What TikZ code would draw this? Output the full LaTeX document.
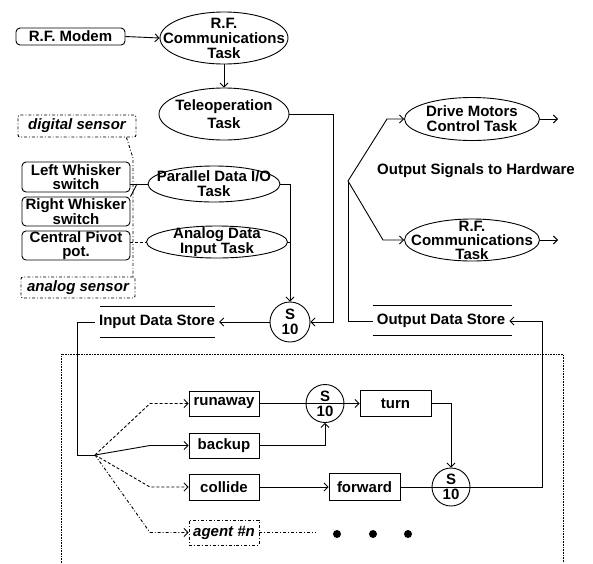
\documentclass[tikz,border=0pt]{standalone}
\usepackage{fontspec}
\setmainfont{Liberation Sans}
\usetikzlibrary{arrows.meta,shapes.geometric}
\begin{document}
\begin{tikzpicture}[x=1pt,y=-1pt,
  every node/.style={font=\fontsize{15}{14}\selectfont\bfseries, inner sep=0pt},
  ln/.style={line width=0.9pt},
  arr/.style={ln,-{Straight Barb[length=4pt,width=8pt]}},
  task/.style={draw,ln,ellipse,inner sep=0pt},
  hw/.style={draw,ln,rounded corners=4pt,align=center},
  sens/.style={draw,ln,dash dot,rounded corners=2pt},
  beh/.style={draw,ln,rectangle},
  sup/.style={draw,ln,circle,align=center,font=\fontsize{15}{15}\selectfont\bfseries},
  store/.style={inner xsep=4pt},
  lbl/.style={align=center}
]
\useasboundingbox (0,0) rectangle (593,563);

% ---- top: RF and teleoperation
\node[hw, minimum width=109, minimum height=17] (modem) at (70.5,36.5) {R.F. Modem};
\node[task, minimum width=128, minimum height=52] (rf1) at (224,38) {};
\node[lbl, font=\fontsize{15}{15}\selectfont\bfseries] at (rf1) {R.F.\\Communications\\Task};
\node[task, minimum width=130, minimum height=52] (tele) at (224,114) {};
\node[lbl, font=\fontsize{15}{18}\selectfont\bfseries] at (tele) {Teleoperation\\Task};

% ---- sensors
\node[sens, minimum width=118, minimum height=22] (dig) at (77,126) {\itshape digital sensor};
\node[hw, minimum width=108, minimum height=30] (lw) at (76,177) {Left Whisker\\switch};
\node[hw, minimum width=108, minimum height=29] (rw) at (76,211.5) {Right Whisker\\switch};
\node[hw, minimum width=108, minimum height=29] (cp) at (76,245.5) {Central Pivot\\pot.};
\node[sens, minimum width=114, minimum height=21] (ana) at (78,287.5) {\itshape analog sensor};

\node[task, minimum width=132, minimum height=36] (par) at (214,184) {};
\node[lbl, font=\fontsize{15}{15}\selectfont\bfseries] at (par) {Parallel Data I/O\\Task};
\node[task, minimum width=141, minimum height=32] (adi) at (217,242) {};
\node[lbl, font=\fontsize{15}{12}\selectfont\bfseries] at (adi) {Analog Data\\Input Task};

\node[sup, minimum size=40] (s1) at (290,322) {S\\10};
\node[store] (ids) at (157,322) {Input Data Store};
\node[store] (ods) at (441,321) {Output Data Store};

% ---- outputs
\node[task, minimum width=135, minimum height=43] (dm) at (472,119) {};
\node[lbl, font=\fontsize{15}{15}\selectfont\bfseries] at (dm) {Drive Motors\\Control Task};
\node[task, minimum width=135, minimum height=42] (rf2) at (472,240) {};
\node[lbl, font=\fontsize{15}{14}\selectfont\bfseries] at (rf2) {R.F.\\Communications\\Task};
\node (osh) at (476,171) {Output Signals to Hardware};

% ---- behaviours
\node[beh, minimum width=70, minimum height=25] (run) at (224,403.5) {runaway};
\node[beh, minimum width=70, minimum height=25] (backup) at (224,445.5) {backup};
\node[beh, minimum width=70, minimum height=26] (collide) at (224,487) {collide};
\node[beh, dash dot, minimum width=70, minimum height=25] (agent) at (224,532.5) {\itshape agent \#n};
\node[sup, minimum size=38] (s2) at (325,403.5) {S\\10};
\node[beh, minimum width=71, minimum height=26] (turn) at (395.5,403.5) {turn};
\node[beh, minimum width=71, minimum height=27] (fwd) at (364.5,487) {forward};
\node[sup, minimum size=38] (s3) at (451,487) {S\\10};

% ---- coordinates
\coordinate (tc) at (333,114);
\coordinate (j1) at (137,184);
\coordinate (fan) at (95,455);
\coordinate (bend) at (77,455);
\coordinate (ofan) at (348,181);
\coordinate (dmo) at (558,119);
\coordinate (rfo) at (558,240);
\coordinate (oret) at (542,487);
\coordinate (agt) at (315,532.5);

% data store bars
\draw[ln] (100,306) -- (215,306);
\draw[ln] (100,337) -- (215,337);
\draw[ln] (373,305) -- (512,305);
\draw[ln] (373,335) -- (512,335);

% dotted agent region
\draw[densely dotted, line width=0.6pt] (61,563) -- (61,354) -- (563,354) -- (563,563);

% ---- connectors top
\draw[arr] (modem.east) -- (rf1.west);
\draw[arr] (rf1.south) -- (tele.north);
\draw[arr] (tele.east) -- (tc) |- (s1.east);
\draw[ln] (lw.east |- par.west) -- (par.west);
\draw[ln] (rw.north east) -- (j1);
\draw[ln, densely dashed] (cp.east |- adi.west) -- (adi.west);
\draw[ln, dash dot] ([xshift=-10pt]dig.south east) -- (133,158) -- (133,276) -- ([xshift=-4pt]ana.north east);
\draw[arr] (par.east) -| (s1.north);
\draw[ln] (adi.east) -- (adi.east -| s1.north);
\draw[arr] (s1.west) -- (s1.west -| ids.east);
\draw[ln] (ids.west) -| (bend) -- (fan);

% ---- outputs
\draw[ln] (ods.west) -| (ofan);
\draw[arr] (ofan) -- (387,119) -- (dm.west);
\draw[arr] (ofan) -- (383,240) -- (rf2.west);
\draw[arr] (dm.east) -- (dmo);
\draw[arr] (rf2.east) -- (rfo);

% ---- behaviours
\draw[arr, densely dashed] (fan) -- (150,403.5) -- (run.west);
\draw[arr] (fan) -- (150,445.5) -- (backup.west);
\draw[arr, densely dashed] (fan) -- (150,487) -- (collide.west);
\draw[arr, dash dot] (fan) -- (150,532.5) -- (agent.west);
\draw[ln, dash dot] (agent.east) -- (agt);
\fill (337,534) circle (4) (373,534) circle (4) (408,534) circle (4);

\draw[ln] (run.east) -- (s2.west) -- (s2.east);
\draw[arr] (s2.east) -- (turn.west);
\draw[arr] (backup.east) -| (s2.south);
\draw[arr] (turn.east) -| (s3.north);
\draw[arr] (collide.east) -- (fwd.west);
\draw[ln] (fwd.east) -- (s3.west) -- (s3.east);
\draw[arr] (s3.east) -- (oret) |- (ods.east);
\end{tikzpicture}
\end{document}
